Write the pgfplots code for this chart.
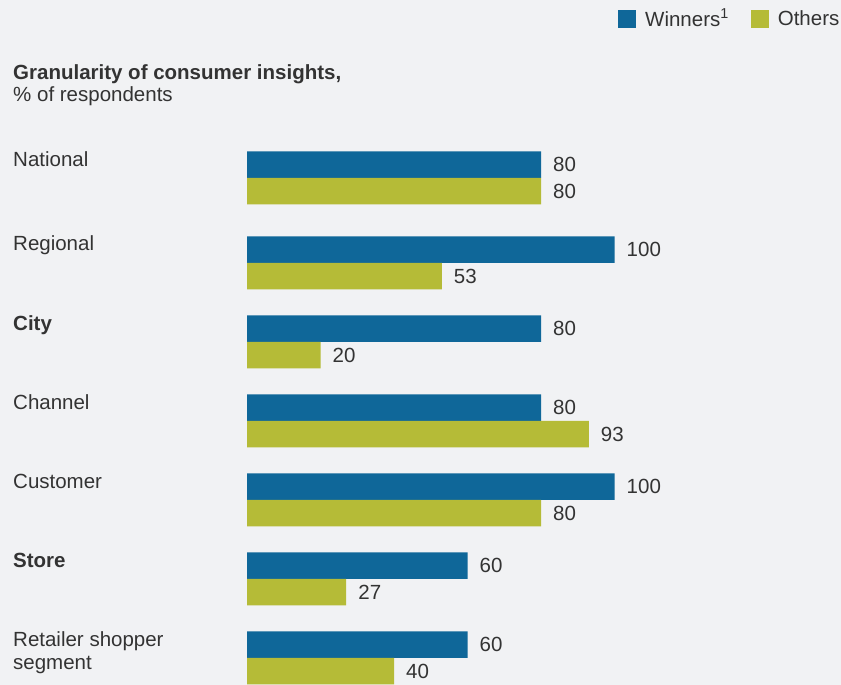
\documentclass[border=0pt]{standalone}
\usepackage{pgfplots}
\pgfplotsset{compat=1.18}
\usepackage{fontspec}
\setmainfont{Liberation Sans}
\definecolor{bg}{HTML}{F1F2F4}
\definecolor{blu}{HTML}{0F6799}
\definecolor{oli}{HTML}{B5BB37}
\definecolor{txt}{HTML}{333333}
\newcommand{\fs}{\fontsize{20.5}{24}\selectfont}
\begin{document}
\begin{tikzpicture}
\fill[bg] (0pt,0pt) rectangle (841pt,685pt);
\path[use as bounding box] (0pt,0pt) rectangle (841pt,685pt);
\begin{axis}[at={(247pt,0pt)}, anchor=south west, scale only axis,
  width=367.5pt, height=685pt, xmin=0, xmax=100, ymin=0, ymax=685,
  hide axis, clip=false, xbar, bar width=26.5pt,
  nodes near coords,
  every node near coord/.append style={font=\fs, text=txt, anchor=west, inner sep=0pt, xshift=12pt},
  /pgf/number format/assume math mode=true,
  legend columns=2,
  legend image code/.code={\draw[#1,draw=none] (0pt,-9pt) rectangle (18pt,9pt); \path (25pt,0pt);},
  legend style={at={(1.626,0.9928)}, anchor=north east, draw=none, fill=none, font=\fs, text=txt,
    /tikz/every even column/.append style={column sep=20pt}, cells={anchor=west}},
]
\addplot[fill=blu, draw=none, bar shift=13.25pt] coordinates {
(80,507) (100,422) (80,343) (80,264) (100,185) (60,106) (60,27)};
\addlegendentry{Winners\textsuperscript{1}}
\addplot[fill=oli, draw=none, bar shift=-13.25pt] coordinates {
(80,507) (53,422) (20,343) (93,264) (80,185) (27,106) (40,27)};
\addlegendentry{Others}
\end{axis}
\begin{scope}[x=1pt, y=1pt, every node/.style={anchor=base west, inner sep=0pt, text=txt, font=\fs}]
\node at (13,685-80) {\bfseries Granularity of consumer insights,};
\node at (13,685-102) {\% of respondents};
\node at (13,685-167) {National};
\node at (13,685-251) {Regional};
\node at (13,685-331) {\bfseries City};
\node at (13,685-410) {Channel};
\node at (13,685-489) {Customer};
\node at (13,685-568) {\bfseries Store};
\node at (13,685-647) {Retailer shopper};
\node at (13,685-670) {segment};
\end{scope}
\end{tikzpicture}
\end{document}
